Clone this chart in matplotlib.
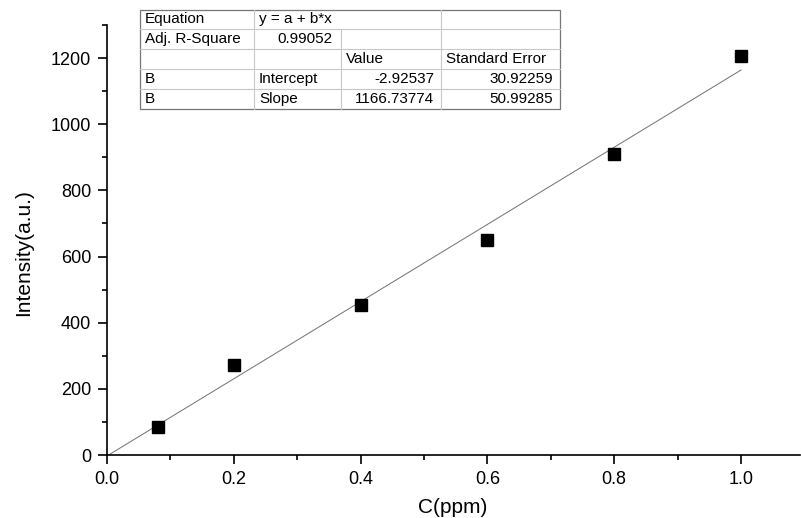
import numpy as np
import matplotlib.pyplot as plt
from matplotlib.ticker import MultipleLocator
from matplotlib.lines import Line2D

plt.rcParams['font.family'] = ['Liberation Sans', 'DejaVu Sans']

# --------------------------------------------------------------------------------------------
# DATA
conc = [0.08, 0.2, 0.4, 0.6, 0.8, 1.0]
intensity = [85, 272, 453, 650, 909, 1205]

intercept = -2.92537
slope = 1166.73774
fit_x = [0.0, 1.0]

table_rows = [
    ['Equation', 'y = a + b*x', '', ''],
    ['Adj. R-Square', '0.99052', '', ''],
    ['', '', 'Value', 'Standard Error'],
    ['B', 'Intercept', '-2.92537', '30.92259'],
    ['B', 'Slope', '1166.73774', '50.99285'],
]

# --------------------------------------------------------------------------------------------
# FIGURE
W, H = 801, 518
fig = plt.figure(figsize=(W / 100, H / 100), dpi=100)
ax = fig.add_axes([107 / W, 1 - 455 / H, (800 - 107) / W, (455 - 25) / H])

ax.plot(fit_x, [intercept + slope * x for x in fit_x], color='#707070', lw=0.7, zorder=2)
ax.plot(conc, intensity, 's', color='black', markersize=8.5, zorder=3)

ax.set_xlim(0, (800 - 107) / 634)
ax.set_ylim(0, 1300)
ax.xaxis.set_major_locator(MultipleLocator(0.2))
ax.xaxis.set_minor_locator(MultipleLocator(0.1))
ax.yaxis.set_major_locator(MultipleLocator(200))
ax.yaxis.set_minor_locator(MultipleLocator(100))
ax.xaxis.set_major_formatter(plt.FuncFormatter(lambda v, p: '%.1f' % v))

for side in ['top', 'right']:
    ax.spines[side].set_visible(False)
for side in ['left', 'bottom']:
    ax.spines[side].set_linewidth(1.2)
ax.tick_params(which='major', direction='out', length=6.5, width=1.2, labelsize=13, pad=5)
ax.tick_params(which='minor', direction='out', length=3.5, width=1.2)

ax.set_xlabel('C(ppm)', fontsize=15)
ax.set_ylabel('Intensity(a.u.)', fontsize=15)
ax.xaxis.set_label_coords((453 - 107) / 693, -(498 - 455) / 430)
ax.yaxis.set_label_coords(-(107 - 33) / 693, (455 - 253) / 430)

# --------------------------------------------------------------------------------------------
# FIT TABLE (pixel layout)
col_x = [140, 254, 341, 441, 560]
row_y = [10, 29, 49, 69, 89, 109]
grid_c = '#c8c8c8'
border_c = '#777777'

def fx(px):
    return px / W

def fy(py):
    return 1 - py / H

# horizontal inner lines
for yy in row_y[1:-1]:
    fig.add_artist(Line2D([fx(col_x[0]), fx(col_x[-1])], [fy(yy), fy(yy)], color=grid_c, lw=0.8))
# vertical inner lines (row 0 merges columns 1 and 2)
for ci in [1, 2, 3]:
    top = row_y[1] if ci == 2 else row_y[0]
    fig.add_artist(Line2D([fx(col_x[ci]), fx(col_x[ci])], [fy(top), fy(row_y[-1])], color=grid_c, lw=0.8))
# outer border
fig.add_artist(plt.Rectangle((fx(col_x[0]), fy(row_y[-1])), fx(col_x[-1] - col_x[0]),
                             (row_y[-1] - row_y[0]) / H, fill=False, edgecolor=border_c, lw=0.9))

right_aligned = {(1, 1), (3, 2), (3, 3), (4, 2), (4, 3)}
for r, row in enumerate(table_rows):
    yc = fy((row_y[r] + row_y[r + 1]) / 2)
    for c, txt in enumerate(row):
        if not txt:
            continue
        if (r, c) in right_aligned:
            pad = 9 if (r, c) == (1, 1) else 7
            fig.text(fx(col_x[c + 1] - pad), yc, txt, ha='right', va='center', fontsize=11)
        else:
            fig.text(fx(col_x[c] + 5), yc, txt, ha='left', va='center', fontsize=11)

fig.savefig('out.png', dpi=100)
